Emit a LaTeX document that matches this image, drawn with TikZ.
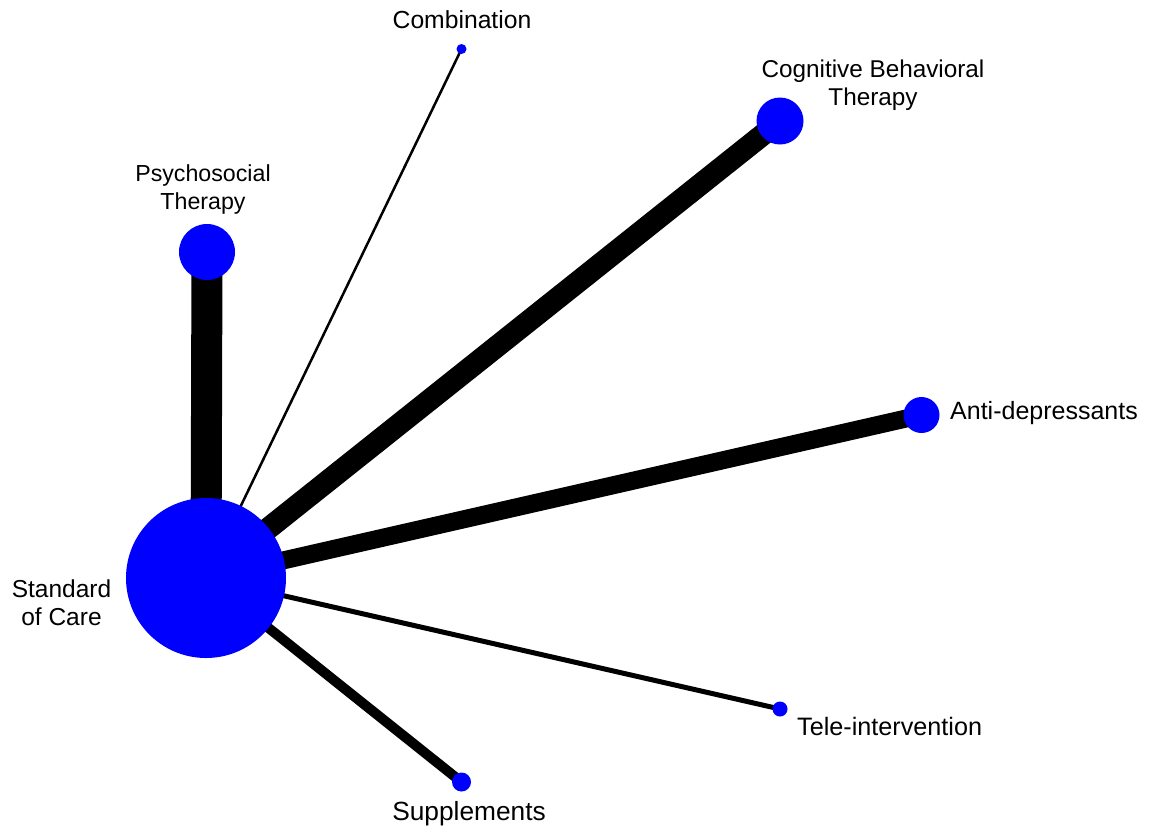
\documentclass[tikz,border=0pt]{standalone}
\usepackage{fontspec}
\setmainfont{Liberation Sans}
\usetikzlibrary{backgrounds}
\definecolor{nodeblue}{RGB}{0,0,255}
\begin{document}
\begin{tikzpicture}[x=1pt,y=-1pt,
  dot/.style={circle,fill=nodeblue,draw=none,inner sep=0pt,minimum size=#1},
  lbl/.style={font=\fontsize{#1}{28}\selectfont,inner sep=0pt,align=center,anchor=base},
  lbl/.default=24.5,
  lbll/.style={lbl=#1,anchor=base west},
  lbll/.default=24.5,
  edge/.style={draw=black,line width=#1}]
\useasboundingbox (0,0) rectangle (1155,828);
% nodes
\node[dot=160] (soc) at (206,578) {};
\node[dot=56] (psy) at (207,252) {};
\node[dot=10] (comb) at (461.5,49) {};
\node[dot=47] (cbt) at (780,121) {};
\node[dot=36] (anti) at (921.5,415) {};
\node[dot=15] (tele) at (780,709) {};
\node[dot=19] (supp) at (461.5,782) {};
% edges
\begin{scope}[on background layer]
\draw[edge=31] (soc.center) -- (psy.center);
\draw[edge=2.5] (soc.center) -- (comb.center);
\draw[edge=22] (soc.center) -- (cbt.center);
\draw[edge=18] (soc.center) -- (anti.center);
\draw[edge=5] (soc.center) -- (tele.center);
\draw[edge=10] (soc.center) -- (supp.center);
\end{scope}
% labels
\node[lbl=24.5] (lsoc) at (61.5,625) {Standard\\of Care};
\node[lbl=23.2] (lpsy) at (203,209.5) {Psychosocial\\Therapy};
\node[lbl=24.7] (lcomb) at (462,28) {Combination};
\node[lbl=24.3] (lcbt) at (873,105) {Cognitive Behavioral\\Therapy};
\node[lbll=25] (lanti) at (950,419) {Anti-depressants};
\node[lbll=25.2] (ltele) at (797,735) {Tele-intervention};
\node[lbl=26.3] (lsupp) at (469,820) {Supplements};
\end{tikzpicture}
\end{document}
